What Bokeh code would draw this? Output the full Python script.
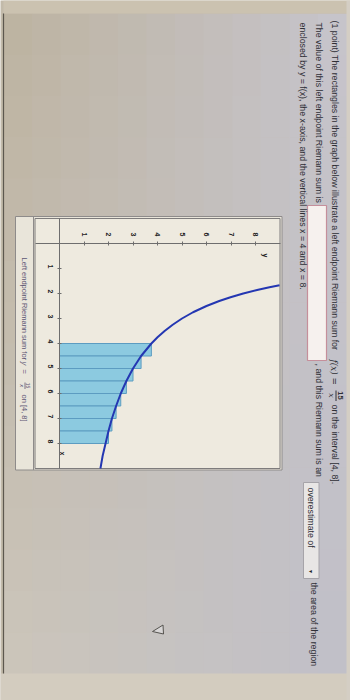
import math
from bokeh.plotting import figure
from bokeh.models import Range1d, LinearAxis, FixedTicker
from bokeh.core.properties import value
from bokeh.embed import file_html
from bokeh.resources import INLINE

# ---------------- data ----------------
x_left = [4.0, 4.5, 5.0, 5.5, 6.0, 6.5, 7.0, 7.5]          # left endpoints
bar_heights = [3.75, 3.33, 3.0, 2.73, 2.5, 2.31, 2.14, 2.0]  # f(left endpoint)
bar_width = 0.5
curve_x = [1.67, 1.75, 1.85, 2.0, 2.15, 2.3, 2.5, 2.75, 3.0, 3.25, 3.5, 3.75,
           4.0, 4.5, 5.0, 5.5, 6.0, 6.5, 7.0, 7.5, 8.0, 8.5, 9.0]
curve_y = [8.98, 8.57, 8.11, 7.5, 6.98, 6.52, 6.0, 5.45, 5.0, 4.62, 4.29, 4.0,
           3.75, 3.33, 3.0, 2.73, 2.5, 2.31, 2.14, 2.0, 1.88, 1.76, 1.67]
x_ticks = [1, 2, 3, 4, 5, 6, 7, 8]
y_ticks = [1, 2, 3, 4, 5, 6, 7, 8]
x_window = [-1, 9]
y_window = [-1, 9]

# ---------------- layout (the photo shows the page turned 90 deg clockwise) ----
W, H = 350, 700
GL, GR, GT, GB = 34.5, 279.5, 218.0, 468.0   # graph frame in pixels
ROT = -math.pi / 2

sx = (GR - GL) / (y_window[1] - y_window[0])
sy = (GB - GT) / (x_window[1] - x_window[0])
gy_range = Range1d(y_window[0] - GL / sx, y_window[1] + (W - GR) / sx)
gx_range = Range1d(x_window[1] + (H - GB) / sy, x_window[0] - GT / sy)

p = figure(width=W, height=H, x_range=Range1d(0, W), y_range=Range1d(H, 0),
           x_axis_location=None, y_axis_location=None, toolbar_location=None,
           output_backend="svg", min_border=0,
           background_fill_color="#c2baaa", border_fill_color="#c2baaa")
p.outline_line_color = None
p.grid.visible = False
p.extra_x_ranges = {"gy": gy_range}
p.extra_y_ranges = {"gx": gx_range}

# ---------------- page background ----------------
def hex2rgb(h):
    return [int(h[i:i + 2], 16) for i in (1, 3, 5)]

def mix(a, b, t):
    return [a[i] + (b[i] - a[i]) * t for i in range(3)]

TL, TR, BL, BR = hex2rgb("#bdb3a0"), hex2rgb("#c7c5cc"), hex2rgb("#ccc6bb"), hex2rgb("#c1c0c9")
PX0, PX1, PY0, PY1 = 3, 346, 13, 673
nx, ny = 12, 16
ql, qr, qt, qb, qc = [], [], [], [], []
for i in range(nx):
    for j in range(ny):
        tx = (i + 0.5) / nx
        ty = (j + 0.5) / ny
        c = mix(mix(TL, TR, tx), mix(BL, BR, tx), ty)
        ql.append(PX0 + (PX1 - PX0) * i / nx)
        qr.append(PX0 + (PX1 - PX0) * (i + 1) / nx + 0.5)
        qt.append(PY0 + (PY1 - PY0) * j / ny)
        qb.append(PY0 + (PY1 - PY0) * (j + 1) / ny + 0.5)
        qc.append("#%02x%02x%02x" % tuple(int(v) for v in c))
p.quad(left=ql, right=qr, top=qt, bottom=qb, fill_color=qc, line_color=None)
# outside the page
p.quad(left=[PX0, 0, PX1], right=[W, W, W], top=[0, PY1, 0], bottom=[PY0, H, H],
       fill_color=["#cbc2b0", "#d3ccbf", "#d4cec4"], line_color=None)
p.segment(x0=[3], y0=[PY0], x1=[3], y1=[PY1], line_color="#5c574e", line_width=1.2)
# mouse pointer
p.patch(x=[152, 162.5, 163], y=[631, 624.5, 633.5], fill_color="#d8d6d6",
        line_color="#55534f", line_width=1)

# ---------------- helper for turned text ----------------
FS = "8.8px"

def vtext(x, y, s, size=FS, color="#2f2f36", font="Liberation Sans",
          style="normal", align="left"):
    p.text(x=[x], y=[y], text=[s], angle=ROT, text_align=align,
           text_baseline="middle", text_font=value(font), text_font_size=size,
           text_color=color, text_font_style=style)

# ---------------- problem text ----------------
vtext(334, 20, "(1 point) The rectangles in the graph below illustrate a left endpoint Riemann sum for")
vtext(333, 359, "f(x) =", font="DejaVu Serif", style="italic", size="8.8px")
vtext(339.5, 395, "15", align="center", size="7.5px", style="bold")
p.segment(x0=[335.5], y0=[390], x1=[335.5], y1=[400.5], line_color="#2f2f36", line_width=1)
vtext(330.5, 395, "x", align="center", font="DejaVu Serif", style="italic", size="8px")
vtext(334, 404, "on the interval [4, 8].")

vtext(318, 22, "The value of this left endpoint Riemann sum is")
p.quad(left=[307], right=[326], top=[205], bottom=[360], fill_color="#f6f1ee",
       line_color="#c58f9b", line_width=1.2)
vtext(318, 363, ", and this Riemann sum is an")
p.quad(left=[303], right=[318.5], top=[482], bottom=[578], fill_color="#e8e6e5",
       line_color="#a6a4a9", line_width=1)
vtext(310.8, 487, "overestimate of")
vtext(310.8, 571, "\u25BC", size="5px", align="center", color="#222")
vtext(313, 582, "the area of the region")

vtext(302, 22, "enclosed by y = f(x), the x-axis, and the vertical lines x = 4 and x = 8.")

# ---------------- chart box and caption ----------------
p.quad(left=[15], right=[281.5], top=[216], bottom=[469.5], fill_color="#e9e5da",
       line_color="#8e8b8a", line_width=1)
p.segment(x0=[33], y0=[216], x1=[33], y1=[469.5], line_color="#8e8b8a", line_width=1)
vtext(24, 257, "Left endpoint Riemann sum for", size="7.5px", color="#5d5674")
vtext(24, 361, "y", size="7.5px", color="#5d5674", style="italic")
vtext(24, 369, "=", size="7.5px", color="#5d5674")
vtext(27.5, 385, "15", align="center", size="5px", color="#5d5674")
p.segment(x0=[24.5], y0=[382], x1=[24.5], y1=[388.5], line_color="#5d5674", line_width=0.8)
vtext(21, 385, "x", align="center", size="5.5px", color="#5d5674", style="italic")
vtext(24, 394, "on [4, 8]", size="7.5px", color="#5d5674")

G = dict(x_range_name="gy", y_range_name="gx")
p.quad(left=[y_window[0]], right=[y_window[1]], top=[x_window[0]], bottom=[x_window[1]],
       fill_color="#eeeadf", line_color="#7e7c7c", line_width=1, **G)

# rectangles of the left endpoint sum (horizontal because the page is turned)
bar_mid = [xl + bar_width / 2 for xl in x_left]
p.hbar(y=bar_mid, height=bar_width, left=0, right=bar_heights,
       fill_color="#8ccae0", line_color="#5c9cc1", line_width=1, **G)

# curve y = 15/x
p.line(x=curve_y, y=curve_x, line_color="#2437b2", line_width=2, **G)

# axes crossing at the origin
def style_axis(ax, standoff):
    ax.axis_line_color = "#6e6e6e"
    ax.axis_line_width = 1
    ax.major_tick_line_color = "#6e6e6e"
    ax.major_tick_in = 2
    ax.major_tick_out = 2
    ax.minor_tick_line_color = None
    ax.major_label_text_font = "Liberation Sans"
    ax.major_label_text_font_size = "7px"
    ax.major_label_text_font_style = "bold"
    ax.major_label_text_color = "#222222"
    ax.major_label_orientation = ROT
    ax.major_label_standoff = standoff

ax_y = LinearAxis(fixed_location=0, ticker=FixedTicker(ticks=y_ticks),
                  bounds=(y_window[0], y_window[1]), **G)
style_axis(ax_y, 5)
p.add_layout(ax_y, "above")
ax_x = LinearAxis(fixed_location=0, ticker=FixedTicker(ticks=x_ticks),
                  bounds=(x_window[0], x_window[1]), **G)
style_axis(ax_x, 7)
p.add_layout(ax_x, "left")

p.text(x=[0.12], y=[8.4], text=["x"], angle=ROT, text_align="center",
       text_baseline="middle", text_font=value("Liberation Sans"),
       text_font_size="6.5px", text_font_style="bold", text_color="#222", **G)
p.text(x=[8.4], y=[0.48], text=["y"], angle=ROT, text_align="center",
       text_baseline="middle", text_font=value("Liberation Sans"),
       text_font_size="7px", text_font_style="bold", text_color="#222", **G)

open("out.html", "w").write(file_html(p, INLINE))
